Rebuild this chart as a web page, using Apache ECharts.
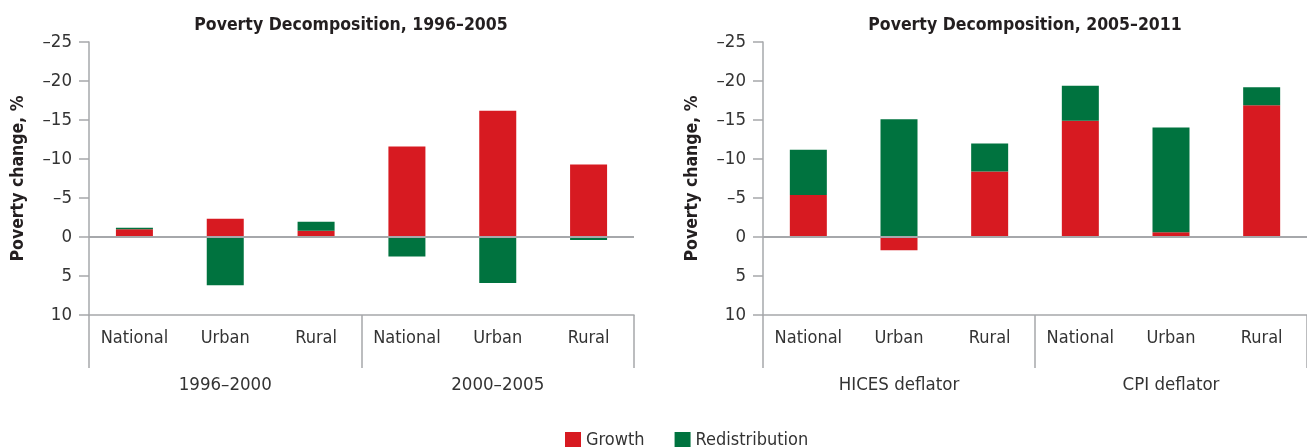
<!DOCTYPE html>
<html>
<head>
<meta charset="utf-8">
<script src="https://cdn.jsdelivr.net/npm/echarts@6/dist/echarts.min.js"></script>
<style>
  html, body { margin: 0; padding: 0; background: #fff; }
  #chart { width: 1307px; height: 447px; }
</style>
</head>
<body>
<div id="chart"></div>
<script>
// categories
const categories = ["National", "Urban", "Rural", "National", "Urban", "Rural"];
const leftGroups = ["1996\u20132000", "2000\u20132005"];
const rightGroups = ["HICES deflator", "CPI deflator"];
const yTicks = [-25, -20, -15, -10, -5, 0, 5, 10];

// values (poverty change, %)
const leftGrowth = [-1.0, -2.35, -0.8, -11.6, -16.2, -9.3];
const leftRedistribution = [-0.2, 6.2, -1.15, 2.5, 5.9, 0.4];
const rightGrowth = [-5.4, 1.7, -8.4, -14.9, -0.6, -16.9];
const rightRedistribution = [-5.8, -15.1, -3.6, -4.5, -13.45, -2.3];

const FONT = "'Liberation Sans Narrow', 'DejaVu Sans Condensed', 'Roboto', sans-serif";
const RED = "#D71A21";
const GREEN = "#00733F";
const AXIS = "#A6A8AB";
const TEXT = "#231F20";

const chart = echarts.init(document.getElementById("chart"));

function yAxisFor(gridIndex) {
  return {
    gridIndex: gridIndex,
    type: "value",
    inverse: true,
    min: yTicks[0],
    max: yTicks[yTicks.length - 1],
    interval: 5,
    name: "Poverty change, %",
    nameLocation: "middle",
    nameGap: 62,
    nameTextStyle: { fontFamily: FONT, fontSize: 17.5, fontWeight: "bold", color: TEXT },
    axisLine: { show: true, lineStyle: { color: AXIS, width: 1.5 } },
    axisTick: { show: true, length: 10, lineStyle: { color: AXIS, width: 1.5 } },
    axisLabel: {
      margin: 17,
      fontFamily: FONT,
      fontSize: 18.5,
      color: "#333",
      formatter: (v) => (v < 0 ? "\u2013" + Math.abs(v) : String(v)),
    },
    splitLine: { show: false },
  };
}

function innerX(gridIndex) {
  return {
    gridIndex: gridIndex,
    type: "category",
    data: categories,
    position: "bottom",
    axisLine: { onZero: false, lineStyle: { color: AXIS, width: 1.5 } },
    axisTick: { length: 10, lineStyle: { color: AXIS, width: 1.5 } },
    axisLabel: { margin: 14, fontFamily: FONT, fontSize: 18, color: "#333", interval: 0 },
  };
}

function outerX(gridIndex, groups) {
  return {
    gridIndex: gridIndex,
    type: "category",
    data: groups,
    position: "bottom",
    axisLine: { show: false, onZero: false },
    axisTick: { show: true, length: 53, lineStyle: { color: AXIS, width: 1.5 } },
    axisLabel: { margin: 61, fontFamily: FONT, fontSize: 18.5, color: "#333", interval: 0 },
  };
}

const zeroLine = {
  silent: true,
  symbol: "none",
  label: { show: false },
  lineStyle: { color: AXIS, width: 2, type: "solid" },
  data: [{ yAxis: 0 }],
};

function bars(name, data, color, xIdx, yIdx, stack, withZero) {
  const s = {
    name: name,
    type: "bar",
    xAxisIndex: xIdx,
    yAxisIndex: yIdx,
    stack: stack,
    barWidth: 37,
    data: data,
    itemStyle: { color: color },
  };
  if (withZero) s.markLine = zeroLine;
  return s;
}

const options = {
  animation: false,
  title: [
    {
      text: "Poverty Decomposition, 1996\u20132005",
      left: 346,
      top: 11,
      textAlign: "center",
      textStyle: { fontFamily: FONT, fontSize: 17.5, fontWeight: "bold", color: TEXT },
    },
    {
      text: "Poverty Decomposition, 2005\u20132011",
      left: 1020,
      top: 11,
      textAlign: "center",
      textStyle: { fontFamily: FONT, fontSize: 17.5, fontWeight: "bold", color: TEXT },
    },
  ],
  legend: {
    left: 560,
    top: 426,
    itemWidth: 16,
    itemHeight: 16,
    itemGap: 30,
    icon: "rect",
    textStyle: { fontFamily: FONT, fontSize: 18, color: "#333" },
    data: ["Growth", "Redistribution"],
  },
  grid: [
    { left: 89, top: 42, width: 545, height: 273 },
    { left: 763, top: 42, width: 545, height: 273 },
  ],
  xAxis: [innerX(0), outerX(0, leftGroups), innerX(1), outerX(1, rightGroups)],
  yAxis: [yAxisFor(0), yAxisFor(1)],
  series: [
    bars("Growth", leftGrowth, RED, 0, 0, "left", true),
    bars("Redistribution", leftRedistribution, GREEN, 0, 0, "left", false),
    bars("Growth", rightGrowth, RED, 2, 1, "right", true),
    bars("Redistribution", rightRedistribution, GREEN, 2, 1, "right", false),
  ],
};

chart.setOption(options);
</script>
</body>
</html>
